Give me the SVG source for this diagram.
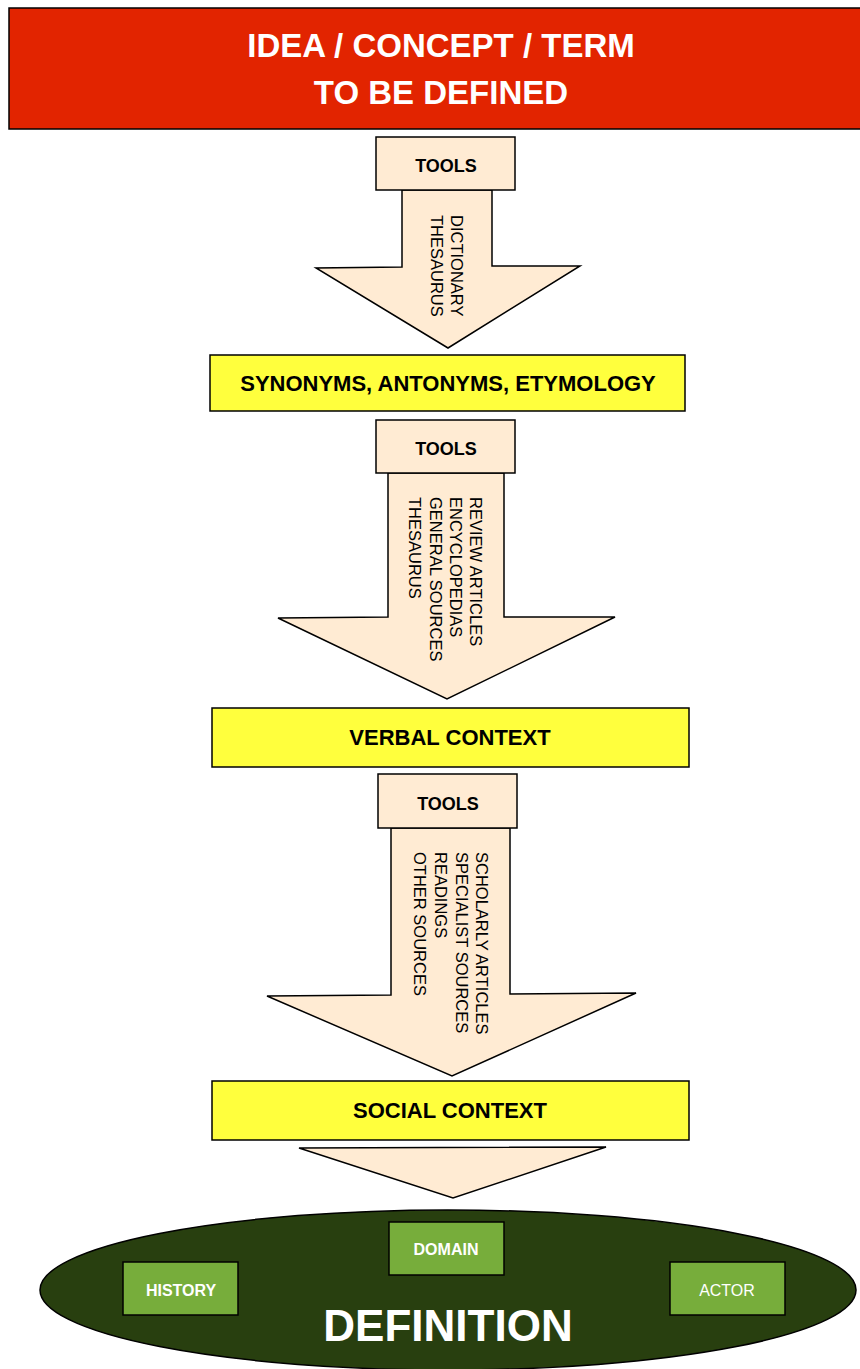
<svg xmlns="http://www.w3.org/2000/svg" width="860" height="1369" viewBox="0 0 860 1369">
<style>
.s{stroke:#000;stroke-width:1.5}
.peach{fill:#ffebd3}
.yel{fill:#ffff3d}
.gbox{fill:#77ad3b;stroke:#000;stroke-width:1.5}
text{font-family:"Liberation Sans",Arial,sans-serif}
.b{font-weight:bold}
.c{text-anchor:middle}
.v{font-size:16.5px;fill:#000}
</style>
<rect width="860" height="1369" fill="#fff"/>
<g id="title">
<rect x="9" y="8" width="860" height="121" fill="#e22400" class="s"/>
<text x="441" y="57" class="b c" font-size="33" fill="#fff">IDEA / CONCEPT / TERM</text>
<text x="441" y="104" class="b c" font-size="33" fill="#fff">TO BE DEFINED</text>
</g>
<g id="connectors">
<g id="arrow1">
<path d="M402,190 L402,267 L316,268 L448,348 L580,266 L492,266 L492,190 Z" class="peach s"/>
<rect x="376" y="137" width="139" height="53" class="peach s"/>
<text x="446" y="172" class="b c" font-size="18">TOOLS</text>
<text transform="translate(451,215) rotate(90)" class="v">DICTIONARY</text>
<text transform="translate(431,215) rotate(90)" class="v">THESAURUS</text>
</g>
<g id="arrow2">
<path d="M388,473 L388,617 L278,618 L447,699 L615,617 L504,617 L504,473 Z" class="peach s"/>
<rect x="376" y="420" width="139" height="53" class="peach s"/>
<text x="446" y="455" class="b c" font-size="18">TOOLS</text>
<text transform="translate(470,497) rotate(90)" class="v">REVIEW ARTICLES</text>
<text transform="translate(450,497) rotate(90)" class="v">ENCYCLOPEDIAS</text>
<text transform="translate(430,497) rotate(90)" class="v">GENERAL SOURCES</text>
<text transform="translate(409,497) rotate(90)" class="v">THESAURUS</text>
</g>
<g id="arrow3">
<path d="M391,828 L391,995 L267,996 L452,1076 L636,993 L510,994 L510,828 Z" class="peach s"/>
<rect x="378" y="774" width="139" height="54" class="peach s"/>
<text x="448" y="810" class="b c" font-size="18">TOOLS</text>
<text transform="translate(476,852) rotate(90)" class="v">SCHOLARLY ARTICLES</text>
<text transform="translate(456,852) rotate(90)" class="v">SPECIALIST SOURCES</text>
<text transform="translate(435,852) rotate(90)" class="v">READINGS</text>
<text transform="translate(414,852) rotate(90)" class="v">OTHER SOURCES</text>
</g>
<g id="arrow4">
<path d="M299,1148 L606,1147 L453,1198 Z" class="peach s"/>
</g>
</g>
<g id="synonyms">
<rect x="210" y="355" width="475" height="56" class="yel s"/>
<text x="448" y="391" class="b c" font-size="22">SYNONYMS, ANTONYMS, ETYMOLOGY</text>
</g>
<g id="verbal">
<rect x="212" y="708" width="477" height="59" class="yel s"/>
<text x="450" y="745" class="b c" font-size="22">VERBAL CONTEXT</text>
</g>
<g id="social">
<rect x="212" y="1081" width="477" height="59" class="yel s"/>
<text x="450" y="1118" class="b c" font-size="22">SOCIAL CONTEXT</text>
</g>
<g id="definition">
<ellipse cx="448" cy="1290" rx="408" ry="80" fill="#283f0f" class="s"/>
<text x="448" y="1341" class="b c" font-size="44" fill="#fff">DEFINITION</text>
</g>
<g id="domain">
<rect x="389" y="1222" width="115" height="53" class="gbox"/>
<text x="446" y="1255" class="b c" font-size="16" fill="#fff">DOMAIN</text>
</g>
<g id="history">
<rect x="123" y="1262" width="115" height="53" class="gbox"/>
<text x="181" y="1296" class="b c" font-size="16" fill="#fff">HISTORY</text>
</g>
<g id="actor">
<rect x="670" y="1262" width="115" height="53" class="gbox"/>
<text x="727" y="1296" class="c" font-size="16" fill="#fff">ACTOR</text>
</g>
</svg>
